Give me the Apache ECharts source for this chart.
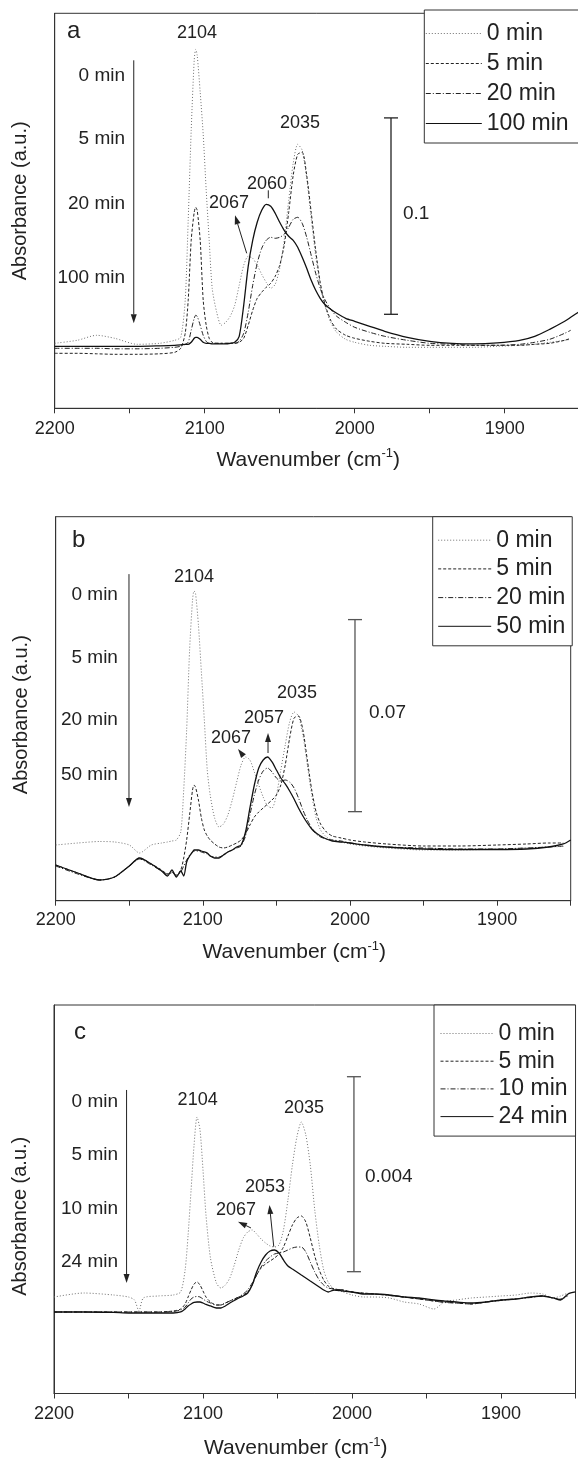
<!DOCTYPE html>
<html><head><meta charset="utf-8">
<script src="https://cdn.jsdelivr.net/npm/echarts@6/dist/echarts.min.js"></script>
<style>html,body{margin:0;padding:0;background:#fff}#c{width:578px;height:1461px}</style>
</head><body><div id="c"></div>
<script>
// ================= DATA =================
const tickLabels = ['2200', '2100', '2000', '1900'];

// Panel a: wavenumbers and absorbance
const wnA = [2200, 2185, 2172, 2160, 2145, 2130, 2120, 2116, 2113, 2111, 2109, 2107, 2106, 2105, 2103, 2101, 2099, 2097, 2095, 2092, 2089, 2086, 2083, 2080, 2077, 2074, 2071, 2068, 2065, 2062, 2059, 2056, 2053, 2050, 2047, 2044, 2041, 2038, 2035, 2032, 2029, 2026, 2023, 2020, 2016, 2012, 2006, 2000, 1990, 1980, 1965, 1950, 1935, 1920, 1905, 1890, 1880, 1870, 1860, 1856, 1850];
const a0 = [0.0325, 0.034, 0.0365, 0.035, 0.032, 0.0325, 0.034, 0.0355, 0.054, 0.094, 0.139, 0.174, 0.1795, 0.1765, 0.158, 0.137, 0.109, 0.084, 0.060, 0.048, 0.0415, 0.043, 0.046, 0.0515, 0.0615, 0.0715, 0.076, 0.075, 0.0715, 0.067, 0.063, 0.06, 0.062, 0.07, 0.084, 0.104, 0.1225, 0.132, 0.129, 0.115, 0.095, 0.076, 0.0615, 0.0515, 0.043, 0.038, 0.0345, 0.033, 0.0315, 0.031, 0.0305, 0.0305, 0.0305, 0.0305, 0.031, 0.0315, 0.032, 0.033, 0.034, 0.0345, null];
const a5 = [0.0275, 0.0275, 0.02725, 0.027, 0.027, 0.02725, 0.028, 0.03, 0.0375, 0.054, 0.084, 0.098, 0.1005, 0.099, 0.084, 0.054, 0.0415, 0.035, 0.033, 0.0325, 0.0325, 0.0325, 0.0325, 0.0325, 0.033, 0.035, 0.0415, 0.049, 0.055, 0.058, 0.0605, 0.0625, 0.066, 0.0715, 0.0815, 0.098, 0.1165, 0.127, 0.128, 0.1165, 0.098, 0.079, 0.063, 0.0525, 0.044, 0.0395, 0.0365, 0.035, 0.0335, 0.0325, 0.032, 0.0315, 0.0315, 0.0315, 0.0315, 0.0315, 0.032, 0.0325, 0.034, 0.035, null];
const a20 = [0.03, 0.03, 0.03, 0.02975, 0.02975, 0.03, 0.0305, 0.031, 0.032, 0.033, 0.039, 0.045, 0.0465, 0.046, 0.0415, 0.0365, 0.0335, 0.0325, 0.0325, 0.0325, 0.0325, 0.0325, 0.0325, 0.0325, 0.0335, 0.0375, 0.048, 0.0615, 0.0725, 0.08, 0.084, 0.0855, 0.085, 0.0855, 0.087, 0.0905, 0.0945, 0.0955, 0.0925, 0.0855, 0.0765, 0.0675, 0.06, 0.0545, 0.0495, 0.046, 0.043, 0.0405, 0.038, 0.036, 0.034, 0.0325, 0.032, 0.0315, 0.0315, 0.032, 0.033, 0.0345, 0.0375, 0.039, null];
const a100 = [0.031, 0.031, 0.031, 0.031, 0.031, 0.03125, 0.0315, 0.03175, 0.032, 0.032, 0.033, 0.035, 0.0355, 0.0355, 0.0345, 0.033, 0.0325, 0.0325, 0.03225, 0.03225, 0.03225, 0.03225, 0.0325, 0.033, 0.036, 0.0515, 0.071, 0.084, 0.093, 0.099, 0.102, 0.101, 0.0975, 0.093, 0.089, 0.086, 0.084, 0.0805, 0.0755, 0.07, 0.064, 0.059, 0.055, 0.052, 0.0495, 0.0475, 0.045, 0.0435, 0.041, 0.0385, 0.0355, 0.0335, 0.0325, 0.03225, 0.03275, 0.034, 0.036, 0.0395, 0.0435, 0.0455, 0.0485];

// Panel b
const wnB = [2200, 2185, 2170, 2160, 2150, 2143, 2135, 2128, 2124, 2121, 2118, 2115, 2113, 2111, 2109, 2107, 2106, 2105, 2103, 2101, 2099, 2097, 2095, 2092, 2089, 2086, 2083, 2080, 2077, 2074, 2071, 2068, 2065, 2062, 2059, 2056, 2053, 2050, 2047, 2044, 2041, 2038, 2035, 2032, 2029, 2026, 2023, 2020, 2016, 2012, 2006, 2000, 1990, 1975, 1950, 1925, 1900, 1880, 1865, 1855, 1850];
const b0 = [0.02033, 0.02106, 0.02161, 0.02143, 0.02033, 0.01741, 0.02033, 0.02106, 0.02143, 0.02179, 0.02216, 0.02508, 0.04041, 0.06231, 0.09151, 0.10976, 0.11304, 0.11231, 0.10063, 0.08348, 0.06596, 0.04771, 0.03858, 0.03019, 0.0269, 0.028, 0.03128, 0.03676, 0.04333, 0.04953, 0.05245, 0.05136, 0.04698, 0.04223, 0.03785, 0.03457, 0.03384, 0.03858, 0.04771, 0.05683, 0.06523, 0.06888, 0.06742, 0.06048, 0.04953, 0.03858, 0.03019, 0.02581, 0.02325, 0.02216, 0.02143, 0.0207, 0.01997, 0.01924, 0.01851, 0.01851, 0.01887, 0.01924, 0.0196, 0.01978, null];
const b5 = [0.01303, 0.01011, 0.00756, 0.00865, 0.01267, 0.01559, 0.0134, 0.01121, 0.00975, 0.01048, 0.00902, 0.01121, 0.01559, 0.02216, 0.03128, 0.04041, 0.04223, 0.0415, 0.03676, 0.03019, 0.02581, 0.02362, 0.02216, 0.0207, 0.0196, 0.01924, 0.0196, 0.02033, 0.02106, 0.02216, 0.02435, 0.02763, 0.03055, 0.03238, 0.03384, 0.0353, 0.03676, 0.03858, 0.04223, 0.04953, 0.05939, 0.06669, 0.06742, 0.06231, 0.05136, 0.04041, 0.03238, 0.028, 0.02508, 0.02362, 0.02289, 0.02216, 0.02143, 0.0207, 0.01997, 0.01997, 0.02033, 0.0207, 0.02106, 0.02106, null];
const b20 = [0.01267, 0.00975, 0.00756, 0.00865, 0.01267, 0.01522, 0.01303, 0.01084, 0.00975, 0.01011, 0.00938, 0.01048, 0.01267, 0.01486, 0.01668, 0.01778, 0.01814, 0.01814, 0.01814, 0.01778, 0.01741, 0.01705, 0.01632, 0.01595, 0.01595, 0.01668, 0.01778, 0.01851, 0.01924, 0.01997, 0.02362, 0.03128, 0.03858, 0.04406, 0.04734, 0.04844, 0.04698, 0.04479, 0.04369, 0.04406, 0.04333, 0.04114, 0.03749, 0.03311, 0.02946, 0.02654, 0.02435, 0.02325, 0.02252, 0.02216, 0.02179, 0.02106, 0.02033, 0.0196, 0.01924, 0.01887, 0.01887, 0.01924, 0.0196, 0.01997, null];
const b50 = [0.01303, 0.01011, 0.00756, 0.00865, 0.01267, 0.01559, 0.0134, 0.01084, 0.00902, 0.01121, 0.00865, 0.01084, 0.00902, 0.01413, 0.01632, 0.01778, 0.01851, 0.01851, 0.01851, 0.01814, 0.01778, 0.01741, 0.01632, 0.01559, 0.01559, 0.01668, 0.01778, 0.01851, 0.0196, 0.02033, 0.02508, 0.03384, 0.04223, 0.04844, 0.05136, 0.05245, 0.05063, 0.04771, 0.04479, 0.0426, 0.04004, 0.03712, 0.03384, 0.03092, 0.02836, 0.02617, 0.02471, 0.02362, 0.02252, 0.02179, 0.02143, 0.02106, 0.02033, 0.0196, 0.01887, 0.01869, 0.01869, 0.01887, 0.0196, 0.0207, 0.02216];

// Panel c
const wnC = [2200, 2180, 2160, 2150, 2146, 2143, 2140, 2130, 2120, 2115, 2112, 2110, 2108, 2106, 2104, 2102, 2100, 2098, 2095, 2091, 2088, 2085, 2082, 2079, 2076, 2073, 2070, 2067, 2064, 2061, 2058, 2055, 2052, 2049, 2046, 2043, 2040, 2037, 2034, 2031, 2028, 2025, 2022, 2019, 2016, 2012, 2006, 2000, 1992, 1985, 1975, 1965, 1955, 1945, 1938, 1930, 1920, 1910, 1900, 1890, 1880, 1872, 1865, 1860, 1855, 1850];
const c0 = [0.001978, 0.00206, 0.002019, 0.001978, 0.001917, 0.001691, 0.001958, 0.001999, 0.002019, 0.002081, 0.002532, 0.003249, 0.004172, 0.005094, 0.005668, 0.005402, 0.004582, 0.003659, 0.002778, 0.002265, 0.002163, 0.002224, 0.002368, 0.002634, 0.002942, 0.003188, 0.003311, 0.003352, 0.00327, 0.003167, 0.003085, 0.003024, 0.003003, 0.003044, 0.003352, 0.003967, 0.004684, 0.005258, 0.005566, 0.005299, 0.004684, 0.003762, 0.003044, 0.002532, 0.002286, 0.002142, 0.002081, 0.002019, 0.001978, 0.001978, 0.001958, 0.001876, 0.001835, 0.001732, 0.001876, 0.001917, 0.001958, 0.001978, 0.001999, 0.002019, 0.00206, 0.00204, 0.001958, 0.001999, 0.00206, null];
const c5 = [0.001671, 0.001671, 0.001671, 0.001671, 0.001671, 0.001671, 0.001671, 0.001671, 0.001691, 0.001732, 0.001835, 0.001978, 0.002122, 0.002245, 0.002286, 0.002224, 0.002101, 0.001978, 0.001876, 0.001814, 0.001814, 0.001855, 0.001896, 0.001937, 0.001978, 0.002019, 0.002081, 0.002224, 0.002429, 0.002573, 0.002655, 0.002716, 0.002778, 0.00286, 0.003003, 0.003229, 0.003454, 0.003598, 0.003639, 0.003516, 0.003188, 0.002819, 0.002532, 0.002327, 0.002204, 0.002142, 0.002122, 0.002081, 0.00206, 0.00204, 0.002019, 0.001978, 0.001937, 0.001896, 0.001876, 0.001855, 0.001835, 0.001876, 0.001917, 0.001937, 0.001978, 0.001999, 0.001958, 0.001937, 0.002019, null];
const c10 = [0.001671, 0.001671, 0.001671, 0.001671, 0.001671, 0.001671, 0.001671, 0.001671, 0.001681, 0.001712, 0.001773, 0.001855, 0.001937, 0.001978, 0.001989, 0.001978, 0.001937, 0.001896, 0.001855, 0.001814, 0.001814, 0.001855, 0.001896, 0.001937, 0.001978, 0.00204, 0.002122, 0.002265, 0.002429, 0.002593, 0.002716, 0.002798, 0.00286, 0.00288, 0.002901, 0.002942, 0.002983, 0.003003, 0.003003, 0.002901, 0.002696, 0.002491, 0.002327, 0.002224, 0.002163, 0.002142, 0.002122, 0.002081, 0.00205, 0.00204, 0.002009, 0.001978, 0.001937, 0.001896, 0.001866, 0.001855, 0.001835, 0.001876, 0.001907, 0.001937, 0.001968, 0.001999, 0.001958, 0.001927, 0.002009, null];
const c24 = [0.001671, 0.001671, 0.001661, 0.00165, 0.00165, 0.00165, 0.00165, 0.00165, 0.00165, 0.001671, 0.001732, 0.001794, 0.001835, 0.001866, 0.001876, 0.001876, 0.001855, 0.001825, 0.001794, 0.001753, 0.001753, 0.001794, 0.001855, 0.001907, 0.001958, 0.001999, 0.00206, 0.002224, 0.002491, 0.002696, 0.002839, 0.002921, 0.002942, 0.00288, 0.002737, 0.002614, 0.002552, 0.002491, 0.002429, 0.002368, 0.002306, 0.002245, 0.002183, 0.002122, 0.002081, 0.002122, 0.002101, 0.002081, 0.00204, 0.00204, 0.002019, 0.001978, 0.001958, 0.001917, 0.001896, 0.001876, 0.001855, 0.001876, 0.001917, 0.001937, 0.001978, 0.001999, 0.001958, 0.001917, 0.00204, 0.002081];

const namesA = ['0 min', '5 min', '20 min', '100 min'];
const namesB = ['0 min', '5 min', '20 min', '50 min'];
const namesC = ['0 min', '5 min', '10 min', '24 min'];

// ================= BUILD =================
const FONT = '"Liberation Sans", Arial, Helvetica, sans-serif';
const TXT = '#222';
const STY = [
  { color: '#707070', width: 1, type: [1, 2] },
  { color: '#222', width: 1, type: [3, 2] },
  { color: '#222', width: 1, type: [5, 2, 1, 2] },
  { color: '#111', width: 1.3, type: 'solid' }
];
function zip(xs, ys) { const o = []; for (let i = 0; i < xs.length; i++) if (ys[i] != null) o.push([xs[i], ys[i]]); return o; }

const panels = [
  { wn: wnA, vals: [a0, a5, a20, a100], names: namesA, ymax: 0.1975,
    grid: { left: 54.7, top: 13.3, width: 525, height: 395 }, labMargin: 12, nameGap: 39,
    yPad: [0, 0, 0, 20], xPad: [0, 18, 0, 0],
    legend: { left: 424.3, top: 10, padding: [12, 12, 8, 1], itemWidth: 56, itemGap: 7 },
    ann: {
      texts: [
        ['a', 2191.8, 0.1885, 'left', 24], ['2104', 2105.1, 0.1875, 'center', 18],
        ['0 min', 2153.1, 0.1665, 'right', 19], ['5 min', 2153.1, 0.135, 'right', 19],
        ['20 min', 2153.1, 0.1025, 'right', 19], ['100 min', 2153.1, 0.0655, 'right', 19],
        ['2060', 2058.5, 0.112, 'center', 18], ['2067', 2083.8, 0.1025, 'center', 18],
        ['2035', 2036.5, 0.1425, 'center', 18], ['0.1', 1967.8, 0.0975, 'left', 19]
      ],
      arrows: [[2147.3, 0.174, 2147.3, 0.0425], [2072, 0.0775, 2079.8, 0.0965]],
      segs: [[2057.6, 0.109, 2057.6, 0.105]],
      bar: [1975.8, 0.047, 0.1452], barColor: '#222'
    } },
  { wn: wnB, vals: [b0, b5, b20, b50], names: namesB, ymax: 0.14016,
    grid: { left: 55.7, top: 516.7, width: 515, height: 384 }, labMargin: 10, nameGap: 39,
    yPad: [0, 12, 0, 0], xPad: [0, 38, 0, 0],
    legend: { left: 432.7, top: 516.7, padding: [12, 7, 8, 5], itemWidth: 53, itemGap: 5.7 },
    ann: {
      texts: [
        ['b', 2188.9, 0.1317, 'left', 24], ['2104', 2106, 0.1181, 'center', 18],
        ['0 min', 2157.7, 0.1116, 'right', 19], ['5 min', 2157.7, 0.0886, 'right', 19],
        ['20 min', 2157.7, 0.066, 'right', 19], ['50 min', 2157.7, 0.0459, 'right', 19],
        ['2035', 2036, 0.0758, 'center', 18], ['2057', 2058.4, 0.0667, 'center', 18],
        ['2067', 2080.9, 0.0594, 'center', 18], ['0.07', 1987.1, 0.0685, 'left', 19]
      ],
      arrows: [[2150.2, 0.1192, 2150.2, 0.0342], [2055.7, 0.0539, 2055.7, 0.0612], [2072.4, 0.0528, 2076.1, 0.0554]],
      segs: [],
      bar: [1996.6, 0.0325, 0.1026], barColor: '#555'
    } },
  { wn: wnC, vals: [c0, c5, c10, c24], names: namesC, ymax: 0.007964,
    grid: { left: 54, top: 1005, width: 521.5, height: 388.5 }, labMargin: 12, nameGap: 42,
    yPad: [0, 34, 0, 0], xPad: [0, 38, 0, 0],
    legend: { left: 434, top: 1005, padding: [17, 8, 8, 6], itemWidth: 53, itemGap: 4.7 },
    ann: {
      texts: [
        ['c', 2186.6, 0.007411, 'left', 24],
        ['0 min', 2157, 0.005982, 'right', 19], ['5 min', 2157, 0.004889, 'right', 19],
        ['10 min', 2157, 0.003782, 'right', 19], ['24 min', 2157, 0.002702, 'right', 19],
        ['2104', 2103.6, 0.006017, 'center', 18], ['2035', 2032.2, 0.005853, 'center', 18],
        ['2053', 2058.4, 0.004233, 'center', 18], ['2067', 2077.9, 0.003762, 'center', 18],
        ['0.004', 1991.3, 0.004444, 'left', 19]
      ],
      arrows: [[2151.3, 0.006222, 2151.3, 0.002265], [2052.5, 0.003009, 2055.4, 0.003864], [2067.8, 0.003393, 2076.5, 0.003522]],
      segs: [],
      bar: [1998.7, 0.002497, 0.006494], barColor: '#555'
    } }
];

const grids = [], xAxes = [], yAxes = [], series = [], legends = [];
panels.forEach((p, i) => {
  grids.push(Object.assign({ show: true, borderColor: '#333', borderWidth: 1, containLabel: false, outerBoundsMode: 'none' }, p.grid));
  xAxes.push({
    gridIndex: i, type: 'value', min: 1850, max: 2200, interval: 50, inverse: true,
    axisLine: { show: true, lineStyle: { color: '#333', width: 1 } },
    axisTick: { show: true, length: 5, lineStyle: { color: '#333', width: 1 } },
    axisLabel: { fontSize: 18, color: TXT, fontFamily: FONT, margin: p.labMargin,
      formatter: v => tickLabels.indexOf(String(v)) >= 0 ? String(v) : '' },
    splitLine: { show: false },
    name: 'Wavenumber (cm{sup|-1})', nameLocation: 'middle', nameGap: p.nameGap,
    nameTextStyle: { fontSize: 21, color: TXT, fontFamily: FONT, lineHeight: 26, padding: p.xPad,
      rich: { sup: { fontSize: 13, color: TXT, fontFamily: FONT, verticalAlign: 'top', lineHeight: 26 } } }
  });
  yAxes.push({
    gridIndex: i, type: 'value', min: 0, max: p.ymax,
    axisLine: { show: true, lineStyle: { color: '#333', width: 1 } },
    axisTick: { show: false }, axisLabel: { show: false }, splitLine: { show: false },
    name: 'Absorbance (a.u.)', nameLocation: 'middle', nameGap: 24,
    nameTextStyle: { fontSize: 20, color: TXT, fontFamily: FONT, padding: p.yPad }
  });
  p.vals.forEach((v, k) => {
    series.push({
      type: 'line', name: p.names[k], xAxisIndex: i, yAxisIndex: i,
      data: zip(p.wn, v), symbol: 'none', showSymbol: false, smooth: 0.25,
      lineStyle: STY[k], itemStyle: { color: STY[k].color }, z: 3 + (k === 0 ? 0 : 1),
      animation: false, silent: true
    });
  });
  const A = p.ann;
  series.push({
    type: 'custom', name: 'ann' + i, xAxisIndex: i, yAxisIndex: i, clip: false, silent: true, z: 6,
    data: [[2000, 0]], animation: false,
    renderItem: function (params, api) {
      const ch = [];
      A.texts.forEach(t => {
        const q = api.coord([t[1], t[2]]);
        ch.push({ type: 'text', x: q[0], y: q[1], style: { text: t[0], fill: TXT, fontSize: t[4], fontFamily: FONT, align: t[3], verticalAlign: 'middle' } });
      });
      A.segs.forEach(s => {
        const q1 = api.coord([s[0], s[1]]), q2 = api.coord([s[2], s[3]]);
        ch.push({ type: 'line', shape: { x1: q1[0], y1: q1[1], x2: q2[0], y2: q2[1] }, style: { stroke: '#222', lineWidth: 1 } });
      });
      A.arrows.forEach(s => {
        const q1 = api.coord([s[0], s[1]]), q2 = api.coord([s[2], s[3]]);
        const dx = q2[0] - q1[0], dy = q2[1] - q1[1], L = Math.sqrt(dx * dx + dy * dy);
        const ux = dx / L, uy = dy / L, hl = 9, hw = 3;
        const bx = q2[0] - ux * hl, by = q2[1] - uy * hl;
        ch.push({ type: 'line', shape: { x1: q1[0], y1: q1[1], x2: bx, y2: by }, style: { stroke: '#222', lineWidth: 1 } });
        ch.push({ type: 'polygon', shape: { points: [[q2[0], q2[1]], [bx - uy * hw, by + ux * hw], [bx + uy * hw, by - ux * hw]] }, style: { fill: '#222' } });
      });
      const b = A.bar, t = api.coord([b[0], b[2]]), bt = api.coord([b[0], b[1]]), cw = 7;
      ch.push({ type: 'line', shape: { x1: t[0], y1: t[1], x2: bt[0], y2: bt[1] }, style: { stroke: A.barColor, lineWidth: 1.3 } });
      ch.push({ type: 'line', shape: { x1: t[0] - cw, y1: t[1], x2: t[0] + cw, y2: t[1] }, style: { stroke: A.barColor, lineWidth: 1.3 } });
      ch.push({ type: 'line', shape: { x1: bt[0] - cw, y1: bt[1], x2: bt[0] + cw, y2: bt[1] }, style: { stroke: A.barColor, lineWidth: 1.3 } });
      return { type: 'group', children: ch };
    }
  });
  legends.push({
    data: p.names, orient: 'vertical', left: p.legend.left, top: p.legend.top,
    padding: p.legend.padding, itemWidth: p.legend.itemWidth, itemHeight: 12, itemGap: p.legend.itemGap,
    borderColor: '#333', borderWidth: 1, borderRadius: 0, backgroundColor: '#fff', selectedMode: false,
    lineStyle: { width: 1 },
    itemStyle: { opacity: 0, color: 'transparent', borderWidth: 0 },
    textStyle: { fontSize: 23, color: TXT, fontFamily: FONT, lineHeight: 22 }, z: 10
  });
});

const chart = echarts.init(document.getElementById('c'), null, { renderer: 'canvas', width: 578, height: 1461 });
chart.setOption({
  animation: false, backgroundColor: '#fff',
  grid: grids, xAxis: xAxes, yAxis: yAxes, series: series, legend: legends
});
</script></body></html>
